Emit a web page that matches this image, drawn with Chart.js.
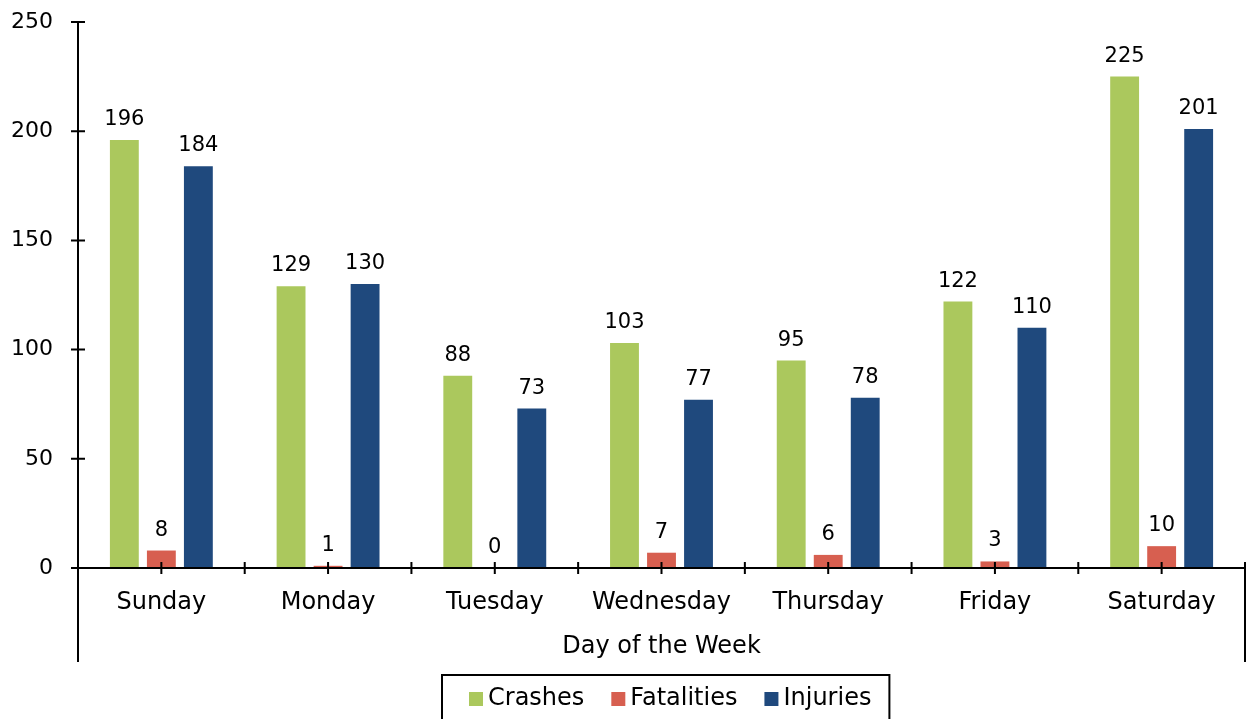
<!DOCTYPE html>
<html>
<head>
<meta charset="utf-8">
<script src="https://cdn.jsdelivr.net/npm/chart.js@4/dist/chart.umd.min.js"></script>
<style>
    html, body { margin: 0; padding: 0; background: #fff; }
    #wrap { width: 1249px; height: 719px; }
</style>
</head>
<body>
<div id="wrap"><canvas id="mainChart" width="1249" height="719"></canvas></div>
<script>
// Data
const days = ['Sunday', 'Monday', 'Tuesday', 'Wednesday', 'Thursday', 'Friday', 'Saturday'];
const crashes = [196, 129, 88, 103, 95, 122, 225];
const fatalities = [8, 1, 0, 7, 6, 3, 10];
const injuries = [184, 130, 73, 77, 78, 110, 201];
const yTicks = [0, 50, 100, 150, 200, 250];

const FONT = '"DejaVu Sans", Verdana, sans-serif';
const GREEN = '#abc85d';
const RED = '#d75f50';
const BLUE = '#1f497d';

// Bar value labels, y labels, axis lines / tick marks, axis title and boxed legend
const decorPlugin = {
    id: 'decor',
    afterDatasetsDraw(chart) {
        const ctx = chart.ctx;
        const area = chart.chartArea;
        const y = chart.scales.y;

        // value labels above bars
        ctx.save();
        ctx.fillStyle = '#000';
        ctx.font = '21px ' + FONT;
        ctx.textAlign = 'center';
        ctx.textBaseline = 'alphabetic';
        chart.data.datasets.forEach((ds, i) => {
            chart.getDatasetMeta(i).data.forEach((bar, j) => {
                ctx.fillText(String(ds.data[j]), bar.x, bar.y - 15);
            });
        });

        // y tick labels
        ctx.font = '22px ' + FONT;
        ctx.textAlign = 'right';
        ctx.textBaseline = 'middle';
        yTicks.forEach(v => {
            ctx.fillText(String(v), area.left - 25, y.getPixelForValue(v));
        });
        ctx.restore();

        // axis lines
        ctx.save();
        ctx.strokeStyle = '#000';
        ctx.lineWidth = 2;
        ctx.beginPath();
        ctx.moveTo(area.left, area.top);
        ctx.lineTo(area.left, 662);
        ctx.moveTo(area.left, area.bottom);
        ctx.lineTo(area.right, area.bottom);
        ctx.moveTo(area.right, area.bottom);
        ctx.lineTo(area.right, 662);

        // y tick marks
        yTicks.forEach(v => {
            const py = y.getPixelForValue(v);
            ctx.moveTo(area.left - 7, py);
            ctx.lineTo(area.left + 7, py);
        });

        // x tick marks at category centers and boundaries
        const step = (area.right - area.left) / days.length;
        for (let k = 0; k <= days.length * 2; k++) {
            const px = area.left + k * step / 2;
            ctx.moveTo(px, area.bottom - 6);
            ctx.lineTo(px, area.bottom + 6);
        }
        ctx.stroke();
        ctx.restore();

        // axis title
        ctx.save();
        ctx.fillStyle = '#000';
        ctx.font = '24px ' + FONT;
        ctx.textAlign = 'center';
        ctx.textBaseline = 'middle';
        ctx.fillText('Day of the Week', (area.left + area.right) / 2, 647);
        ctx.restore();

        // legend with border
        ctx.save();
        ctx.font = '24px ' + FONT;
        ctx.textBaseline = 'middle';
        const items = chart.data.datasets.map(ds => ({
            label: ds.label,
            color: ds.backgroundColor,
            w: 14 + 5 + ctx.measureText(ds.label).width
        }));
        const gap = 27;
        const itemsW = items.reduce((s, it) => s + it.w, 0) + gap * (items.length - 1);
        const boxW = itemsW + 45;
        const boxLeft = Math.round((area.left + area.right) / 2 + 4 - boxW / 2);
        ctx.strokeStyle = '#000';
        ctx.lineWidth = 2;
        ctx.strokeRect(boxLeft, 675, boxW, 60);
        let cx = boxLeft + 27;
        const cy = 699;
        items.forEach(it => {
            ctx.fillStyle = it.color;
            ctx.fillRect(cx, cy - 7, 14, 14);
            ctx.fillStyle = '#000';
            ctx.textAlign = 'left';
            ctx.fillText(it.label, cx + 19, cy);
            cx += it.w + gap;
        });
        ctx.restore();
    }
};

const ctx = document.getElementById('mainChart').getContext('2d');
new Chart(ctx, {
    type: 'bar',
    data: {
        labels: days,
        datasets: [
            { label: 'Crashes', data: crashes, backgroundColor: GREEN },
            { label: 'Fatalities', data: fatalities, backgroundColor: RED },
            { label: 'Injuries', data: injuries, backgroundColor: BLUE }
        ]
    },
    options: {
        responsive: false,
        animation: false,
        devicePixelRatio: 1,
        layout: { padding: { left: 0, right: 4, top: 22, bottom: 0 } },
        datasets: {
            bar: { categoryPercentage: 0.666, barPercentage: 0.78 }
        },
        plugins: {
            legend: { display: false },
            tooltip: { enabled: false }
        },
        scales: {
            x: {
                grid: { display: false, drawTicks: false },
                border: { display: false },
                ticks: {
                    color: '#000',
                    padding: 20,
                    font: { family: FONT, size: 24 }
                },
                afterFit: (scale) => { scale.height = 151; }
            },
            y: {
                min: 0,
                max: 250,
                grid: { display: false, drawTicks: false },
                border: { display: false },
                ticks: { display: false, stepSize: 50, padding: 0 },
                afterFit: (scale) => { scale.width = 78; }
            }
        }
    },
    plugins: [decorPlugin]
});
</script>
</body>
</html>
